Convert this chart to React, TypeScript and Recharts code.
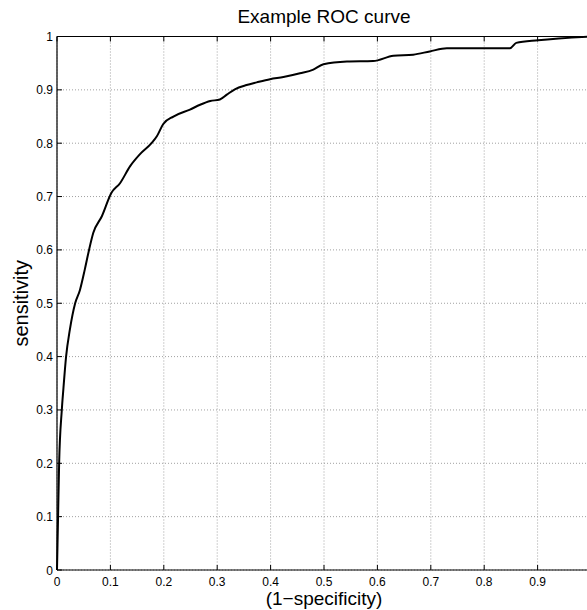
import { LineChart, Line, XAxis, YAxis, CartesianGrid } from "recharts";

const fpr = [
  0, 0.002, 0.004, 0.009, 0.012, 0.017, 0.024, 0.034, 0.043, 0.052, 0.06,
  0.068, 0.084, 0.102, 0.118, 0.137, 0.155, 0.177, 0.187, 0.199, 0.218, 0.249,
  0.268, 0.287, 0.305, 0.318, 0.333, 0.355, 0.374, 0.399, 0.424, 0.455, 0.48,
  0.499, 0.543, 0.592, 0.63, 0.667, 0.698, 0.73, 0.848, 0.86, 0.901, 1,
];
const tpr = [
  0, 0.1, 0.2, 0.3, 0.34, 0.4, 0.45, 0.5, 0.525, 0.563, 0.6, 0.632, 0.663,
  0.707, 0.725, 0.757, 0.779, 0.8, 0.813, 0.836, 0.85, 0.863, 0.872, 0.879,
  0.882, 0.891, 0.901, 0.909, 0.914, 0.92, 0.924, 0.931, 0.938, 0.948, 0.953,
  0.954, 0.964, 0.966, 0.972, 0.978, 0.978, 0.988, 0.993, 1,
];
const xTicks = [0, 0.1, 0.2, 0.3, 0.4, 0.5, 0.6, 0.7, 0.8, 0.9, 1];
const yTicks = [0, 0.1, 0.2, 0.3, 0.4, 0.5, 0.6, 0.7, 0.8, 0.9, 1];
// the label for 1 sits past the right edge of the picture, so it is left out
const xTickLabels = ["0", "0.1", "0.2", "0.3", "0.4", "0.5", "0.6", "0.7", "0.8", "0.9", ""];
const yTickLabels = ["0", "0.1", "0.2", "0.3", "0.4", "0.5", "0.6", "0.7", "0.8", "0.9", "1"];

const data = fpr.map((x, i) => ({ x, y: tpr[i] }));

const font = "'Liberation Sans', Arial, Helvetica, sans-serif";

const BottomTick = (props: any) => {
  const { x, y, index } = props;
  return (
    <g>
      <line x1={x} y1={y} x2={x} y2={y - 5} stroke="#000" strokeWidth={1} />
      {xTickLabels[index] ? (
        <text x={x} y={y + 16} textAnchor="middle" fontSize={12} fontFamily={font} fill="#000">
          {xTickLabels[index]}
        </text>
      ) : null}
    </g>
  );
};

const TopTick = (props: any) => {
  const { x, y } = props;
  return <line x1={x} y1={y} x2={x} y2={y + 5} stroke="#000" strokeWidth={1} />;
};

const LeftTick = (props: any) => {
  const { x, y, index } = props;
  return (
    <g>
      <line x1={x} y1={y} x2={x + 5} y2={y} stroke="#000" strokeWidth={1} />
      <text x={x - 4} y={y + 4.5} textAnchor="end" fontSize={12} fontFamily={font} fill="#000">
        {yTickLabels[index]}
      </text>
    </g>
  );
};

export default function App() {
  return (
    <div
      style={{
        position: "absolute",
        left: 0,
        top: 0,
        width: 587,
        height: 610,
        overflow: "hidden",
        background: "#fff",
      }}
    >
      <LineChart width={595} height={610} data={data} margin={{ top: 0, right: 4, bottom: 0, left: 0 }}>
        <CartesianGrid stroke="#a0a0a0" strokeDasharray="1 2" />
        <XAxis
          dataKey="x"
          type="number"
          domain={[0, 1]}
          ticks={xTicks}
          interval={0}
          height={40}
          tickSize={0}
          tickMargin={0}
          tick={BottomTick}
          axisLine={{ stroke: "#000", strokeWidth: 1.2 }}
          label={{
            value: "(1\u2212specificity)",
            position: "insideBottom",
            offset: 5,
            fill: "#000",
            fontSize: 19,
            fontFamily: font,
          }}
        />
        <XAxis
          xAxisId="top"
          orientation="top"
          dataKey="x"
          type="number"
          domain={[0, 1]}
          ticks={xTicks}
          interval={0}
          height={36.5}
          tickSize={0}
          tickMargin={0}
          tick={TopTick}
          axisLine={{ stroke: "#000", strokeWidth: 1.2 }}
          label={{
            value: "Example ROC curve",
            position: "insideTop",
            offset: 10,
            fill: "#000",
            fontSize: 19,
            fontFamily: font,
          }}
        />
        <YAxis
          type="number"
          domain={[0, 1]}
          ticks={yTicks}
          interval={0}
          width={57}
          tickSize={0}
          tickMargin={0}
          tick={LeftTick}
          axisLine={{ stroke: "#000", strokeWidth: 1.2 }}
          label={{
            value: "sensitivity",
            angle: -90,
            position: "insideLeft",
            offset: 21,
            fill: "#000",
            fontSize: 20,
            fontFamily: font,
            style: { textAnchor: "middle" },
          }}
        />
        <Line
          type="monotone"
          dataKey="y"
          stroke="#000"
          strokeWidth={2}
          dot={false}
          isAnimationActive={false}
        />
      </LineChart>
    </div>
  );
}
